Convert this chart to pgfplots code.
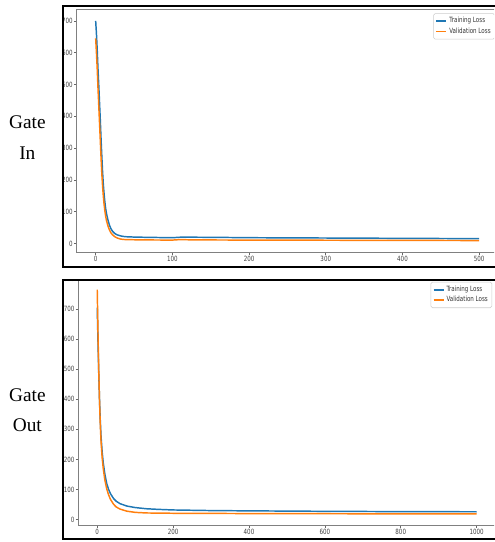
\documentclass[border=0pt]{standalone}
\usepackage{pgfplots}
\pgfplotsset{compat=1.18}
\usepackage{fontspec}
\usepackage{graphicx}
\setmainfont{Liberation Serif}
\newfontfamily\dv{DejaVu Sans}
\definecolor{mblue}{HTML}{1F77B4}
\definecolor{morange}{HTML}{FF7F0E}
\newcommand{\sq}[1]{\scalebox{0.77}[1]{#1}}
\pgfplotsset{
  lossaxis/.style={
    overlay,
    scale only axis,
    axis line style={black!50, line width=0.6pt},
    tick align=outside,
    tick pos=left,
    major tick length=1.9pt,
    every tick/.style={black!60, line width=0.5pt},
    tick label style={font=\dv\fontsize{5.4}{6}\selectfont, text=black!75},
    xticklabel style={inner sep=1.2pt},
    yticklabel style={inner sep=0.8pt},
    /pgf/number format/assume math mode=true,
    /pgf/number format/1000 sep={},
    xticklabel={\sq{\pgfmathprintnumber{\tick}}},
    yticklabel={\sq{\pgfmathprintnumber{\tick}}},
    legend style={at={(1,1)}, anchor=north east, xshift=-2.6pt, yshift=-2.6pt,
      font=\dv\fontsize{5.4}{6}\selectfont, draw=black!20, fill=white,
      rounded corners=1.2pt, inner xsep=1.5pt, inner ysep=1.8pt, row sep=0pt,
      nodes={inner ysep=1.1pt, inner xsep=1.5pt}, text=black!80},
    legend cell align=left,
  }
}
\begin{document}
\begin{tikzpicture}
\useasboundingbox (0,0) rectangle (370.5pt,406.5pt);
% ---------- top panel ----------
\begin{scope}
\clip (47.25pt,206.5pt) rectangle (370.5pt,402pt);
\begin{axis}[lossaxis,
  at={(57.375pt,217.5pt)}, anchor=south west,
  width=316.4pt, height=181.6pt,
  xmin=-25, xmax=525, ymin=-27, ymax=735,
  xtick={0,100,200,300,400,500},
  ytick={0,100,200,300,400,500,600,700}]
\addplot[mblue, line width=1.1pt,
  legend image code/.code={\draw[mblue, line width=1.3pt] (0pt,0pt) -- (7.5pt,0pt);}] coordinates {
(0,700)(1,660)(2,610)(3,550)(4,500)(5,445)(6,390)(7,330)(8,275)(9,225)(10,185)(11,155)(12,130)(13,110)(14,95)(16,74)(18,57)(20,46)(22,38)(25,31)(28,27)(32,24)(36,22)(40,21)(50,20)(70,19)(100,18)(110,19.5)(130,19.5)(160,19)(200,18)(300,17)(400,16)(500,15)};
\addlegendentry{\sq{Training Loss}}
\addplot[morange, line width=1.1pt,
  legend image code/.code={\draw[morange, line width=1.3pt] (0pt,0pt) -- (7.5pt,0pt);}] coordinates {
(0,645)(1,600)(2,550)(3,490)(4,435)(5,380)(6,325)(7,270)(8,220)(9,180)(10,148)(11,122)(12,102)(13,86)(14,73)(16,55)(18,42)(20,33)(22,27)(25,21)(28,17)(32,14)(36,12.5)(40,12)(60,11)(100,10.5)(110,12)(130,11)(200,10.5)(300,10)(400,9.5)(500,9)};
\addlegendentry{\sq{Validation Loss}}
\end{axis}
\end{scope}
\draw[line width=1.5pt] (372pt,402pt) -- (47.25pt,402pt) -- (47.25pt,206.5pt) -- (372pt,206.5pt);
% ---------- bottom panel ----------
\begin{scope}
\clip (47.25pt,2pt) rectangle (370.5pt,196.5pt);
\begin{axis}[lossaxis,
  at={(58.7pt,12.75pt)}, anchor=south west,
  width=313pt, height=184.95pt,
  xmin=-50, xmax=1050, ymin=-18, ymax=802,
  xtick={0,200,400,600,800,1000},
  ytick={0,100,200,300,400,500,600,700,800}]
\addplot[mblue, line width=1.1pt,
  legend image code/.code={\draw[mblue, line width=1.3pt] (0pt,0pt) -- (7.5pt,0pt);}] coordinates {
(0,705)(2,590)(4,485)(6,400)(8,330)(10,278)(13,225)(16,187)(20,152)(25,120)(30,100)(35,86)(43,70)(50,61)(60,53)(78,45)(100,40)(130,36)(160,34)(200,32)(300,30)(400,29)(600,27.5)(800,26.5)(1000,26)};
\addlegendentry{\sq{Training Loss}}
\addplot[morange, line width=1.1pt,
  legend image code/.code={\draw[morange, line width=1.3pt] (0pt,0pt) -- (7.5pt,0pt);}] coordinates {
(0,765)(2,620)(4,495)(6,395)(8,318)(10,260)(13,205)(16,168)(20,132)(25,102)(30,82)(35,67)(43,51)(50,42)(60,35)(78,28)(100,24)(130,22)(200,21)(400,20)(600,19.5)(800,19)(1000,19)};
\addlegendentry{\sq{Validation Loss}}
\end{axis}
\end{scope}
\draw[line width=1.5pt] (372pt,196.5pt) -- (47.25pt,196.5pt) -- (47.25pt,2pt) -- (372pt,2pt);
% ---------- side labels ----------
\node[anchor=base, font=\fontsize{14.5}{17}\selectfont, inner sep=0pt] at (20.5pt,309.75pt) {Gate};
\node[anchor=base, font=\fontsize{14.5}{17}\selectfont, inner sep=0pt] at (20.5pt,286.5pt) {In};
\node[anchor=base, font=\fontsize{14.5}{17}\selectfont, inner sep=0pt] at (20.5pt,105pt) {Gate};
\node[anchor=base, font=\fontsize{14.5}{17}\selectfont, inner sep=0pt] at (20.5pt,82.5pt) {Out};
\end{tikzpicture}
\end{document}
